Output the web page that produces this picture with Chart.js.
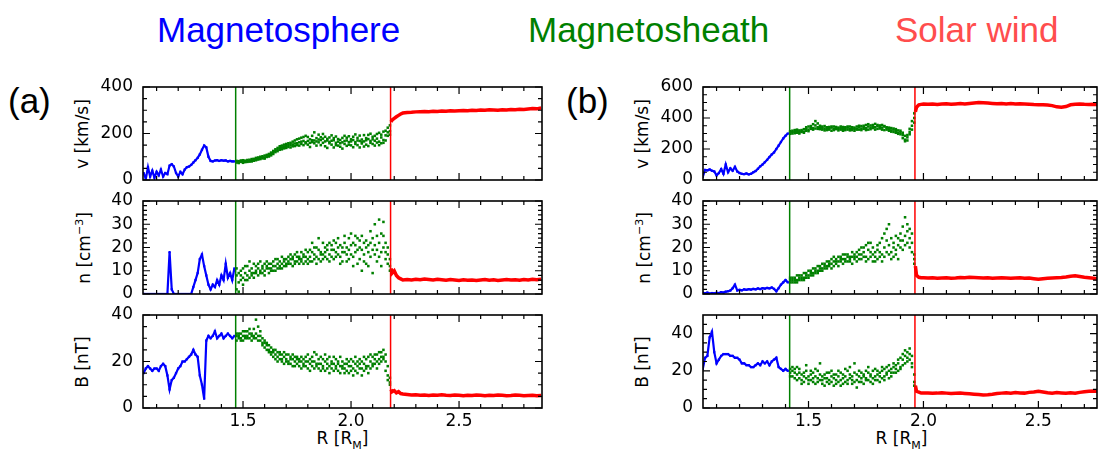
<!DOCTYPE html>
<html><head><meta charset="utf-8">
<script src="https://cdn.jsdelivr.net/npm/chart.js@4.4.0/dist/chart.umd.min.js"></script>
<style>
html,body{margin:0;padding:0;background:#fff;width:1101px;height:450px;overflow:hidden;position:relative}
canvas{position:absolute}
.t{position:absolute;font-family:"Liberation Sans",Arial,sans-serif;font-size:35px;line-height:35px;white-space:nowrap}
.yl{position:absolute;font-family:"DejaVu Sans";font-size:17px;line-height:20px;white-space:nowrap;transform:translate(-50%,-50%) rotate(-90deg);color:#000}
.xl{position:absolute;font-family:"DejaVu Sans";font-size:17px;line-height:20px;white-space:nowrap;transform:translate(-50%,-50%);color:#000}
sup,sub{font-size:11px}
</style></head><body>
<div class="t" style="left:157px;top:12px;color:#0000ff">Magnetosphere</div>
<div class="t" style="left:528px;top:12px;color:#008000">Magnetosheath</div>
<div class="t" style="left:895px;top:12px;color:#ff4d4d">Solar wind</div>
<div class="t" style="left:8px;top:83px;color:#000">(a)</div>
<div class="t" style="left:566px;top:83px;color:#000">(b)</div>
<div class="yl" style="left:82px;top:133.5px">v [km/s]</div>
<div class="yl" style="left:82px;top:247.5px">n [cm<sup>−3</sup>]</div>
<div class="yl" style="left:82px;top:361.5px">B [nT]</div>
<div class="yl" style="left:642px;top:133.5px">v [km/s]</div>
<div class="yl" style="left:642px;top:247.5px">n [cm<sup>−3</sup>]</div>
<div class="yl" style="left:642px;top:361.5px">B [nT]</div>
<div class="xl" style="left:342.5px;top:442px">R [R<sub>M</sub>]</div>
<div class="xl" style="left:901.5px;top:442px">R [R<sub>M</sub>]</div>
<script>
// ---------- axis ticks ----------
const aXMajor = [1.5, 2.0, 2.5];
const aXMinor = [1.1,1.2,1.3,1.4,1.6,1.7,1.8,1.9,2.1,2.2,2.3,2.4,2.6,2.7,2.8];
const bXMajor = [1.5, 2.0, 2.5];
const bXMinor = [1.1,1.2,1.3,1.4,1.6,1.7,1.8,1.9,2.1,2.2,2.3,2.4,2.6,2.7];
const vAMajor = [0,200,400];
const vAMinor = [50,100,150,250,300,350];
const vBMajor = [0,200,400,600];
const vBMinor = [50,100,150,250,300,350,450,500,550];
const nMajor = [0,10,20,30,40];
const nMinor = [2,4,6,8,12,14,16,18,22,24,26,28,32,34,36,38];
const bAMajor = [0,20,40];
const bAMinor = [5,10,15,25,30,35];
const bBMajor = [0,20,40];
const bBMinor = [5,10,15,25,30,35,45];
// region boundaries (magnetopause, bow shock)
const aBounds = [1.466, 2.183];
const bBounds = [1.418, 1.963];

// ---------- panel (a) ----------
const aBlueX = [1.04,1.05,1.06,1.07,1.08,1.09,1.10,1.11,1.12,1.13,1.14,1.15,1.16,1.17,1.18,1.19,1.20,1.21,1.22,1.23,1.24,1.25,1.26,1.27,1.28,1.29,1.30,1.31,1.32,1.33,1.34,1.35,1.36,1.37,1.38,1.39,1.40,1.41,1.42,1.43,1.44,1.45,1.46];
const aVBlue = [30,5,55,15,40,10,35,20,45,15, 30,25,62,68,58,30,15,35,25,45, 55,58,65,75,85,95,110,130,148,140, 100,82,80,84,85,82,85,83,84,80, 82,80,80];
const aNBlue = [0,0,0,0,0,0,0,0,0,0, 0,0,18,2,0,0,0,0,0,0, 0,0,0,3,6,9,15,17,12,8, 4,2,4,3,6,4,8,6,13,7, 9,6,11];
const aBBlue = [15,17,18,17,16,17,17,16,18,19, 18,14,8,12,13,15,17,18,20,20, 21,22,23,25,23,22,14,10,4,29, 31,30,31,33,30,31,32,30,31,32, 31,30,31];

const aGreenX = [1.47,1.48,1.49,1.50,1.51,1.52,1.53,1.54,1.55,1.56,1.57,1.58,1.59,1.60,1.61,1.62,1.63,1.64,1.65,1.66,1.67,1.68,1.69,1.70,1.71,1.72,1.73,1.74,1.75,1.76,1.77,1.78,1.79,1.80,1.81,1.82,1.83,1.84,1.85,1.86,1.87,1.88,1.89,1.90,1.91,1.92,1.93,1.94,1.95,1.96,1.97,1.98,1.99,2.00,2.01,2.02,2.03,2.04,2.05,2.06,2.07,2.08,2.09,2.10,2.11,2.12,2.13,2.14,2.15,2.16,2.17,2.18];
const aVGreen = [[82,75,79],[76,81,73],[84,78,80],[79,85,74],[83,77,81],[78,86,80],[87,79,83],[82,90,80],[88,83,91],[85,95,88],
[97,88,92],[90,100,94],[102,93,98],[96,105,92],[108,99,103],[112,101,106],[106,118,112],[125,112,120],[120,132,126],[138,124,130],
[130,145,138],[148,132,140],[136,152,143],[155,138,146],[142,158,150],[160,140,151],[145,165,153],[170,146,157],[150,175,158],[178,148,162],
[155,182,165],[185,150,168],[158,190,162],[168,152,185],[175,160,142],[190,163,171],[158,205,170],[180,148,166],[162,195,174],[150,172,184],
[178,160,198],[166,186,145],[138,170,177],[183,158,164],[152,192,169],[171,140,180],[160,187,150],[176,165,148],[143,172,158],[181,162,135],
[155,190,168],[170,147,182],[188,163,152],[149,175,166],[172,141,186],[163,196,155],[181,150,170],[140,168,191],[174,157,162],[193,166,144],
[152,180,171],[176,146,194],[160,199,168],[186,155,175],[148,190,169],[198,161,178],[165,203,150],[183,158,195],[172,208,160],[192,170,212],
[225,190,205],[210,235,195]];
const aNGreen = [[8,2,11],[5,9,1],[10,6,8],[7,11,4],[9,6,12],[12,8,6],[7,10,14],[11,8,9],[9,13,7],[12,9,10],
[8,11,13],[10,14,9],[12,9,11],[10,13,8],[14,11,12],[11,9,13],[13,11,10],[10,14,12],[12,10,15],[15,11,13],
[11,14,12],[13,16,11],[15,12,14],[12,15,13],[16,13,14],[13,17,15],[15,12,16],[17,14,13],[14,16,18],[16,13,15],
[18,15,14],[13,17,16],[16,19,14],[15,13,18],[19,16,14],[14,18,22],[17,15,20],[20,16,13],[15,19,24],[18,14,17],
[22,17,15],[16,20,18],[19,15,21],[17,22,14],[21,16,19],[15,19,23],[18,22,16],[24,17,20],[16,21,13],[20,14,18],
[22,18,25],[14,20,17],[19,24,15],[26,17,21],[16,22,12],[21,18,25],[13,24,19],[20,15,23],[25,19,10],[17,22,14],
[23,13,20],[12,21,18],[27,16,22],[19,24,9],[30,17,21],[14,25,19],[22,32,16],[18,12,26],[25,20,31],[15,22,18],
[17,13,20],[12,15,10]];
const aBGreen = [[31,29,32],[30,32,31],[32,30,29],[29,31,33],[31,33,30],[33,30,31],[30,32,34],[32,29,31],[34,31,30],[38,32,30],
[31,35,29],[29,31,33],[28,30,27],[29,26,28],[27,25,28],[25,27,24],[26,24,23],[24,22,25],[23,25,21],[22,24,20],
[24,21,23],[21,23,20],[22,19,24],[20,23,21],[23,20,19],[19,22,21],[21,18,23],[20,22,18],[22,19,21],[18,21,20],
[20,17,22],[19,21,18],[22,18,20],[17,20,23],[21,19,16],[18,22,20],[20,17,24],[23,19,18],[17,21,19],[19,16,22],
[21,18,17],[16,20,23],[19,17,21],[22,18,15],[17,20,19],[19,16,22],[21,18,17],[16,20,19],[18,15,22],[20,17,18],
[17,19,15],[19,16,21],[15,18,20],[18,21,16],[20,17,14],[16,19,22],[18,15,20],[21,17,19],[17,20,14],[19,16,22],
[21,18,17],[18,22,15],[20,17,23],[22,19,18],[19,23,21],[23,20,17],[21,24,19],[24,20,22],[22,25,21],[20,23,16],
[14,18,12],[11,13,10]];

const aRedX = [2.185,2.19,2.20,2.21,2.22,2.23,2.24,2.26,2.28,2.30,2.32,2.34,2.36,2.38,2.40,2.42,2.44,2.46,2.48,2.50,2.52,2.54,2.56,2.58,2.60,2.62,2.64,2.66,2.68,2.70,2.72,2.74,2.76,2.78,2.80,2.82,2.84,2.86,2.88];
const aVRed = [250,258,265,272,278,284,288, 290,291,293,294,295,294,296,295,297,296, 298,297,298,299,298,300,299,301,300,302, 301,300,302,301,303,302,304,303,305,307, 306,310];
const aNRed = [11,9,10,8,7,6.5,6, 6.2,6.0,6.3,6.1,6.4,6.2,6.0,6.3,6.1,5.9, 6.2,6.0,5.8,6.1,5.9,6.0,5.8,6.0,6.2,5.9, 6.1,5.8,6.0,6.2,6.0,6.1,5.9,6.2,6.0,6.3, 6.1,6.4];
const aBRed = [8,7,7.5,6.5,7,6.2,6, 5.8,5.6,5.7,5.5,5.6,5.4,5.6,5.5,5.7,5.5, 5.4,5.6,5.5,5.3,5.5,5.4,5.6,5.5,5.3,5.5, 5.4,5.6,5.5,5.3,5.4,5.6,5.5,5.3,5.4,5.5, 5.3,5.4];

// ---------- panel (b) ----------
const bBlueX = [1.04,1.05,1.06,1.07,1.08,1.09,1.10,1.11,1.12,1.13,1.14,1.15,1.16,1.17,1.18,1.19,1.20,1.21,1.22,1.23,1.24,1.25,1.26,1.27,1.28,1.29,1.30,1.31,1.32,1.33,1.34,1.35,1.36,1.37,1.38,1.39,1.40,1.41];
const bVBlue = [20,65,62,68,60,55,30,45,70,40, 100,50,75,60,85,55,45,40,38,42, 36,40,50,58,72,88,100,115,130,148, 165,178,200,222,245,268,285,300];
const bNBlue = [0.5,0.3,0.6,0.2,0.4,0.3,0.5,0.4,0.8,0.6, 1.0,1.2,1.5,2.5,4.0,1.5,1.8,1.6,2.0,1.8, 2.1,1.9,2.2,2.0,2.4,2.1,2.5,2.3,2.6,2.4, 2.8,2.2,1.2,2.5,4.0,5.0,6.0,5.0];
const bBBlue = [21,27,28,38,41,30,24,26,28,29, 29,29,28,28,27,27,26,24,24,23, 23,22,22,23,24,23,25,24,25,23, 25,26,27,22,21,20,21,20];

const bGreenX = [1.42,1.43,1.44,1.45,1.46,1.47,1.48,1.49,1.50,1.51,1.52,1.53,1.54,1.55,1.56,1.57,1.58,1.59,1.60,1.61,1.62,1.63,1.64,1.65,1.66,1.67,1.68,1.69,1.70,1.71,1.72,1.73,1.74,1.75,1.76,1.77,1.78,1.79,1.80,1.81,1.82,1.83,1.84,1.85,1.86,1.87,1.88,1.89,1.90,1.91,1.92,1.93,1.94,1.95,1.96];
const bVGreen = [[305,315,298],[318,300,310],[302,322,312],[315,305,325],[308,320,300],[322,310,316],[312,328,305],[330,318,340],[325,345,315],[348,330,338],
[335,360,325],[352,332,380],[340,365,330],[328,350,342],[345,325,335],[332,348,320],[340,322,335],[325,342,332],[338,318,345],[330,345,322],
[342,328,335],[320,338,330],[335,325,345],[328,342,318],[340,322,332],[325,338,345],[345,330,320],[322,340,335],[338,318,330],[330,345,325],
[340,325,350],[322,348,332],[350,330,340],[335,355,322],[345,325,360],[328,352,338],[355,335,345],[340,362,325],[330,348,355],[352,332,340],
[338,355,325],[345,322,348],[325,340,335],[338,318,330],[320,335,312],[332,310,325],[315,328,305],[305,320,298],[318,295,308],[290,305,270],
[260,285,250],[275,255,290],[310,295,330],[350,325,380],[400,430,370]];
const bNGreen = [[6,5,7],[5,7,6],[7,5,6],[6,8,5],[7,6,8],[8,6,7],[7,9,6],[9,7,8],[8,10,7],[10,8,9],
[9,11,8],[11,9,10],[10,12,9],[12,10,11],[11,13,10],[13,11,12],[12,14,11],[14,12,13],[13,15,11],[12,14,16],
[15,13,14],[14,16,12],[16,14,15],[13,15,17],[15,17,14],[17,14,16],[14,16,15],[16,18,13],[15,17,16],[18,14,16],
[15,19,17],[17,15,20],[20,16,18],[16,21,14],[19,15,22],[22,18,16],[17,20,14],[14,18,16],[19,15,21],[16,22,18],
[24,17,14],[20,26,16],[28,18,23],[30,21,17],[18,24,15],[22,16,20],[17,25,19],[21,15,24],[26,20,23],[23,29,19],
[33,25,21],[27,22,30],[24,28,20],[26,22,18],[15,13,17]];
const bBGreen = [[19,21,17],[20,17,22],[16,19,21],[18,22,15],[21,16,19],[15,18,13],[19,14,17],[16,20,23],[13,17,15],[18,15,20],
[14,19,16],[17,13,21],[20,16,14],[15,24,18],[17,13,15],[12,18,16],[16,14,19],[19,15,13],[14,17,20],[16,12,18],
[13,18,15],[17,14,20],[15,19,12],[18,13,16],[14,17,21],[20,15,13],[16,22,18],[13,17,15],[19,14,24],[15,18,11],
[17,20,14],[14,16,19],[18,13,17],[16,20,15],[19,15,22],[14,18,17],[20,16,13],[17,21,15],[15,18,20],[19,14,17],
[16,20,22],[21,17,15],[18,22,19],[20,16,23],[17,21,19],[22,19,24],[19,23,21],[24,20,26],[22,27,21],[26,23,29],
[28,24,31],[25,30,27],[29,26,32],[24,28,22],[14,18,12]];

const bRedX = [1.965,1.97,1.98,1.99,2.00,2.02,2.04,2.06,2.08,2.10,2.12,2.14,2.16,2.18,2.20,2.22,2.24,2.26,2.28,2.30,2.32,2.34,2.36,2.38,2.40,2.42,2.44,2.46,2.48,2.50,2.52,2.54,2.56,2.58,2.60,2.62,2.64,2.66,2.68,2.70,2.72,2.74,2.76];
const bVRed = [440,470,485,488, 490,488,490,487,490,492,489,491,493,490, 494,497,500,498,496,494,492,494,491,493, 490,492,491,489,487,486,485,484,480,472, 470,474,485,488,490,488,487,489,487];
const bNRed = [12,8,7.2,7, 7.0,6.9,7.0,6.8,6.9,7.0,6.8,6.9,7.1,7.0, 7.2,7.1,7.0,6.9,7.0,6.8,6.9,7.0,6.9,6.8, 6.9,7.0,6.8,6.9,6.6,6.3,6.6,6.8,6.9,7.0, 7.1,7.3,7.6,7.8,7.5,7.2,7.0,6.8,6.5];
const bBRed = [12,9,8.5,8, 8.0,8.1,7.9,8.0,8.2,8.0,7.8,7.9,8.0,7.8, 7.6,7.4,7.2,7.0,7.1,7.4,7.8,8.0,8.2,8.0, 8.3,8.1,8.0,8.4,8.6,9.0,8.6,8.2,8.0,8.3, 8.1,7.9,8.2,8.0,8.4,8.7,9.0,9.2,8.9];

// ---------- drawing ----------
const BLUE = '#0000ff', GREEN = '#008000', RED = '#ff0000';
const cols = [
  {cl:0,   cw:560, L:143, R:542,  xmin:1.037, xmax:2.884, bounds:aBounds, xMajor:aXMajor, xMinor:aXMinor},
  {cl:560, cw:541, L:703, R:1100, xmin:1.041, xmax:2.755, bounds:bBounds, xMajor:bXMajor, xMinor:bXMinor}
];
const rows = [{T:87,B:180},{T:201,B:294},{T:315,B:408}];
const M = 26;

function pts(xs, ys){ return xs.map((x,i)=>({x:x, y:ys[i]})); }
function ptsMulti(xs, rowsY){ const out=[]; xs.forEach((x,i)=>rowsY[i].forEach(v=>out.push({x:x,y:v}))); return out; }

function framePlugin(c){
  return {id:'frame', afterDatasetsDraw(chart){
    const ctx=chart.ctx, a=chart.chartArea, xs=chart.scales.x, ys=chart.scales.y;
    ctx.save();
    c.bounds.forEach((b,i)=>{
      const px=xs.getPixelForValue(b);
      ctx.strokeStyle = i===0 ? GREEN : RED; ctx.lineWidth=1.5;
      ctx.beginPath(); ctx.moveTo(px,a.top); ctx.lineTo(px,a.bottom); ctx.stroke();
    });
    ctx.strokeStyle='#000'; ctx.lineWidth=1.2; ctx.beginPath();
    const tx=(v,len)=>{const px=xs.getPixelForValue(v); ctx.moveTo(px,a.bottom); ctx.lineTo(px,a.bottom-len); ctx.moveTo(px,a.top); ctx.lineTo(px,a.top+len);};
    const ty=(v,len)=>{const py=ys.getPixelForValue(v); ctx.moveTo(a.left,py); ctx.lineTo(a.left+len,py); ctx.moveTo(a.right,py); ctx.lineTo(a.right-len,py);};
    c.xMajor.forEach(v=>tx(v,7)); c.xMinor.forEach(v=>tx(v,4));
    c.yMajor.forEach(v=>ty(v,7)); c.yMinor.forEach(v=>ty(v,4));
    ctx.stroke();
    ctx.lineWidth=1.6; ctx.strokeRect(a.left,a.top,a.right-a.left,a.bottom-a.top);
    ctx.restore();
  }};
}

const panels = [
  {c:0,r:0,blue:[aBlueX,aVBlue],green:[aGreenX,aVGreen],red:[aRedX,aVRed],ymax:400,yMajor:vAMajor,yMinor:vAMinor},
  {c:0,r:1,blue:[aBlueX,aNBlue],green:[aGreenX,aNGreen],red:[aRedX,aNRed],ymax:40,yMajor:nMajor,yMinor:nMinor},
  {c:0,r:2,blue:[aBlueX,aBBlue],green:[aGreenX,aBGreen],red:[aRedX,aBRed],ymax:40,yMajor:bAMajor,yMinor:bAMinor},
  {c:1,r:0,blue:[bBlueX,bVBlue],green:[bGreenX,bVGreen],red:[bRedX,bVRed],ymax:600,yMajor:vBMajor,yMinor:vBMinor},
  {c:1,r:1,blue:[bBlueX,bNBlue],green:[bGreenX,bNGreen],red:[bRedX,bNRed],ymax:40,yMajor:nMajor,yMinor:nMinor},
  {c:1,r:2,blue:[bBlueX,bBBlue],green:[bGreenX,bBGreen],red:[bRedX,bBRed],ymax:50,yMajor:bBMajor,yMinor:bBMinor}
];

Chart.defaults.font.family = 'DejaVu Sans';
panels.forEach(p=>{
  const col=cols[p.c], row=rows[p.r];
  const showX = p.r===2;
  const xh = showX ? 36 : M;
  const cv=document.createElement('canvas');
  const h=(row.B-row.T)+M+xh;
  cv.width=col.cw; cv.height=h;
  cv.style.left=col.cl+'px'; cv.style.top=(row.T-M)+'px';
  cv.style.width=col.cw+'px'; cv.style.height=h+'px';
  document.body.appendChild(cv);
  const tickFont={family:'DejaVu Sans',size:17};
  new Chart(cv,{
    type:'scatter',
    data:{datasets:[
      {data:pts(p.blue[0],p.blue[1]), showLine:true, borderColor:BLUE, backgroundColor:BLUE, borderWidth:2.2, pointRadius:1.6, pointStyle:'rect', pointBorderWidth:0},
      {data:ptsMulti(p.green[0],p.green[1]), showLine:false, borderColor:GREEN, backgroundColor:GREEN, borderWidth:0, pointRadius:1.8, pointStyle:'rect', pointBorderWidth:0},
      {data:pts(p.red[0],p.red[1]), showLine:true, borderColor:RED, backgroundColor:RED, borderWidth:3.5, pointRadius:0}
    ]},
    options:{
      responsive:false, animation:false, devicePixelRatio:1,
      layout:{padding:{left:0,top:M,right:col.cl+col.cw-col.R,bottom:0}},
      plugins:{legend:{display:false},tooltip:{enabled:false}},
      events:[],
      scales:{
        x:{type:'linear',min:col.xmin,max:col.xmax,
           afterFit:s=>{s.height=xh;},
           afterBuildTicks:s=>{s.ticks=col.xMajor.map(v=>({value:v}));},
           grid:{display:false,drawTicks:false}, border:{display:false},
           ticks:{display:showX,padding:3,color:'#000',font:tickFont,maxRotation:0,autoSkip:false,callback:v=>Number(v).toFixed(1)}},
        y:{type:'linear',min:0,max:p.ymax,
           afterFit:s=>{s.width=col.L-col.cl;},
           afterBuildTicks:s=>{s.ticks=p.yMajor.map(v=>({value:v}));},
           grid:{display:false,drawTicks:false}, border:{display:false},
           ticks:{padding:10,color:'#000',font:tickFont,autoSkip:false,callback:v=>String(v)}}
      }
    },
    plugins:[framePlugin({bounds:col.bounds,xMajor:col.xMajor,xMinor:col.xMinor,yMajor:p.yMajor,yMinor:p.yMinor})]
  });
});
</script>
</body></html>
